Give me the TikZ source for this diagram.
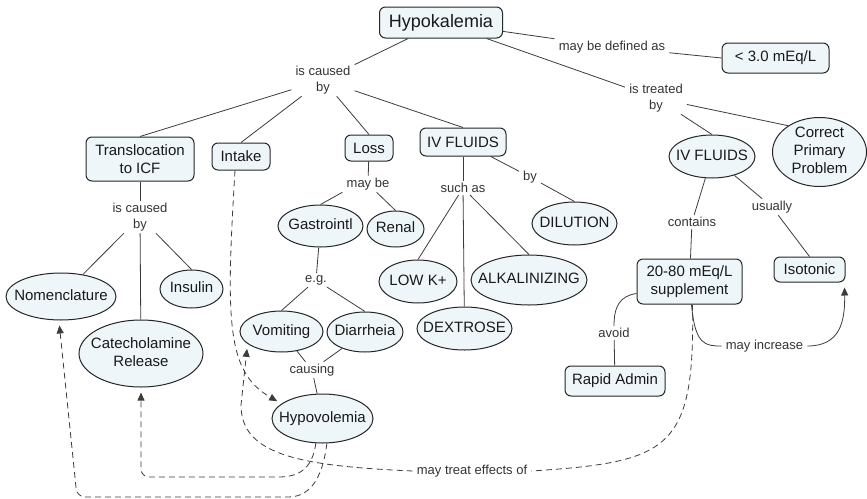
\documentclass[tikz,border=0pt]{standalone}
\usepackage{fontspec}
\setmainfont{Liberation Sans}
\usetikzlibrary{shapes.geometric,arrows.meta}
\definecolor{conceptfill}{RGB}{238,246,250}
\definecolor{linkgray}{RGB}{60,60,60}
% text of an oval takes no room, the oval gets its size from the options
\newcommand{\ovaltext}[1]{\makebox[0pt]{\vbox to 0pt{\vss\hbox{\begin{tabular}{@{}c@{}}#1\end{tabular}}\vss}}}

\begin{document}
\begin{tikzpicture}[x=1pt, y=-1pt,
    concept/.style={draw=black!85, fill=conceptfill, line width=1pt, rounded corners=6pt, inner sep=0pt, align=center, text=black!90, font=\fontsize{15}{18}\selectfont},
    oval/.style={draw=black!85, fill=conceptfill, line width=1pt, ellipse, inner sep=0pt, text=black!90, font=\fontsize{15}{18}\selectfont},
    phrase/.style={text=black!80, inner xsep=4pt, inner ysep=2pt, align=center, font=\fontsize{13}{16}\selectfont},
    link/.style={draw=linkgray, line width=0.8pt},
    effect/.style={link, dash pattern=on 6pt off 4pt},
    arrowed/.style={->, shorten >=5pt},
    >={Triangle[length=8pt,width=7pt]}]
    \useasboundingbox (0,0) rectangle (867,498);

    % Concepts
    \node[concept, font=\fontsize{18}{20}\selectfont, minimum width=123pt, minimum height=31pt] (hypo) at (441,22.5) {Hypokalemia};
    \node[concept, minimum width=107pt, minimum height=30pt] (lt3) at (775.5,58) {< 3.0 mEq/L};
    \node[concept, minimum width=108pt, minimum height=44pt] (trans) at (140,159) {Translocation\\to ICF};
    \node[concept, minimum width=58pt, minimum height=27pt] (intake) at (241,156.5) {Intake};
    \node[concept, minimum width=48pt, minimum height=26pt] (loss) at (369,148) {Loss};
    \node[concept, minimum width=86pt, minimum height=28pt] (ivl) at (463,142) {IV FLUIDS};
    \node[concept, minimum width=105pt, minimum height=45pt] (supp) at (689.5,281.5) {20-80 mEq/L\\supplement};
    \node[concept, minimum width=71pt, minimum height=25pt] (iso) at (809.5,269.5) {Isotonic};
    \node[concept, minimum width=100pt, minimum height=30pt] (rapid) at (615,381) {Rapid Admin};

    \node[oval, minimum width=86pt, minimum height=43pt] (ivr) at (712,156.5) {\ovaltext{IV FLUIDS}};
    \node[oval, minimum width=94pt, minimum height=69pt] (cpp) at (819.5,152) {\ovaltext{Correct\\Primary\\Problem}};
    \node[oval, minimum width=110pt, minimum height=47pt] (nomen) at (61,296.5) {\ovaltext{Nomenclature}};
    \node[oval, minimum width=124pt, minimum height=67pt] (catech) at (141,353.5) {\ovaltext{Catecholamine\\Release}};
    \node[oval, minimum width=63pt, minimum height=38pt] (insulin) at (191.5,289) {\ovaltext{Insulin}};
    \node[oval, minimum width=85pt, minimum height=42pt] (gastro) at (320.5,226) {\ovaltext{Gastrointl}};
    \node[oval, minimum width=57pt, minimum height=36pt] (renal) at (395.5,229) {\ovaltext{Renal}};
    \node[oval, minimum width=83pt, minimum height=41pt] (vomit) at (281.5,331.5) {\ovaltext{Vomiting}};
    \node[oval, minimum width=76pt, minimum height=40pt] (diarr) at (365,332) {\ovaltext{Diarrheia}};
    \node[oval, minimum width=101pt, minimum height=49pt] (hypovol) at (322.5,418.5) {\ovaltext{Hypovolemia}};
    \node[oval, minimum width=85pt, minimum height=43pt] (dilution) at (574.5,223.5) {\ovaltext{DILUTION}};
    \node[oval, minimum width=78pt, minimum height=43pt] (lowk) at (418,281.5) {\ovaltext{LOW K+}};
    \node[oval, minimum width=116pt, minimum height=50pt] (alk) at (529,280) {\ovaltext{ALKALINIZING}};
    \node[oval, minimum width=95pt, minimum height=43pt] (dext) at (464.5,328.5) {\ovaltext{DEXTROSE}};

    % Linking phrases
    \node[phrase] (caused1) at (323,80) {is caused\\by};
    \node[phrase] (defined) at (612,47) {may be defined as};
    \node[phrase] (treated) at (656,98) {is treated\\by};
    \node[phrase] (caused2) at (140,217) {is caused\\by};
    \node[phrase] (maybe) at (368,184) {may be};
    \node[phrase] (eg) at (316,280) {e.g.};
    \node[phrase] (causing) at (312,370) {causing};
    \node[phrase] (suchas) at (463,188) {such as};
    \node[phrase] (by) at (530,177) {by};
    \node[phrase] (contains) at (692,222) {contains};
    \node[phrase] (usually) at (772,207) {usually};
    \node[phrase] (avoid) at (614,333) {avoid};
    \node[phrase] (incr) at (764.5,346) {may increase};
    \node[phrase] (treatlbl) at (472,471) {may treat effects of};

    % Connections
    \foreach \a/\b in {hypo/caused1, caused1/trans.north, caused1/intake.north, caused1/loss.north, caused1/ivl.north,
                       hypo/defined, defined/lt3.west, hypo/treated, treated/ivr.north, treated/cpp.140,
                       trans/caused2, caused2/nomen, caused2/catech, caused2/insulin.north,
                       loss/maybe, maybe.south west/gastro.north, maybe/renal.north,
                       gastro/eg, eg/vomit.north, eg/diarr.north, vomit/causing, diarr/causing, causing/hypovol,
                       ivl/suchas, suchas/lowk.north, suchas/dext, suchas/alk.north, ivl/by, by/dilution.north,
                       ivr/contains, contains/supp, ivr/usually, usually/iso.north, avoid/rapid}
        \draw[link] (\a) -- (\b);

    \draw[link] ([yshift=-12pt]supp.west) .. controls (620,296) and (614,306) .. (avoid.north);
    \draw[link] ([xshift=2pt]supp.south) .. controls (695,345) and (705,346) .. (incr.west);
    \draw[link, arrowed] (incr.east) .. controls (840,346) and (845,322) .. ([xshift=-1pt]iso.south east);

    % may treat effects of
    \draw[effect, arrowed] ([xshift=-6pt]intake.south) .. controls (226,320) and (226,372) .. (hypovol.160);
    \draw[effect] ([xshift=3pt]supp.south) .. controls (695,450) and (670,462) .. (treatlbl.east);
    \draw[effect, arrowed] (treatlbl.west) .. controls (300,466) and (241,455) .. (241,405) -- (vomit.200);
    \draw[effect, arrowed, rounded corners=8pt] (hypovol.-105) .. controls (312,470) and (298,477) .. (270,477) -- (141,477) -- (catech.south);
    \draw[effect, arrowed, rounded corners=8pt] (hypovol.-80) .. controls (322,482) and (308,497) .. (280,497) -- (77,497) -- (nomen.-95);
\end{tikzpicture}
\end{document}
